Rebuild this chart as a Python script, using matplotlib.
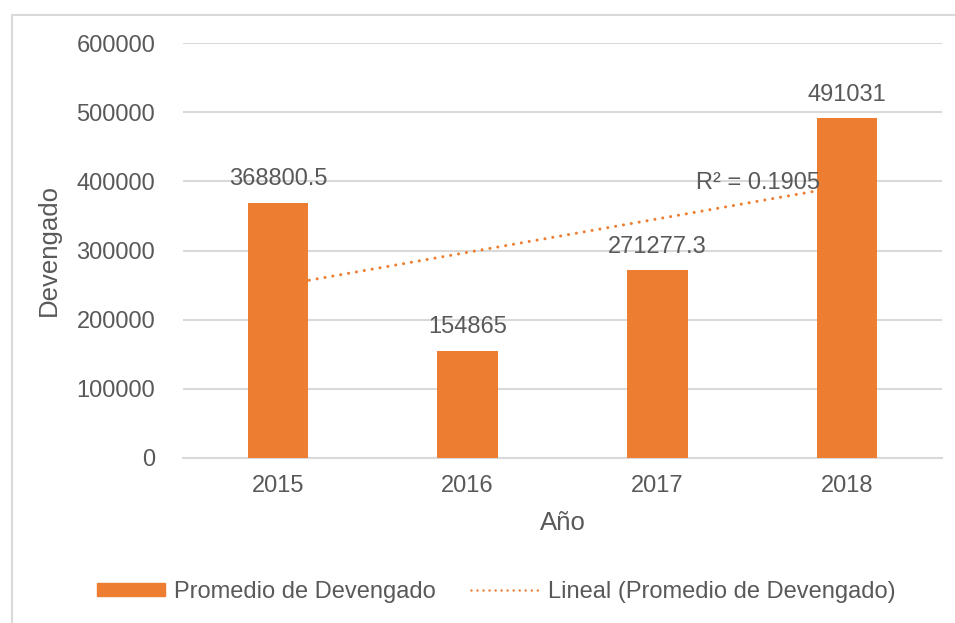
import matplotlib
matplotlib.use("Agg")
import matplotlib.pyplot as plt
import matplotlib.patches as mpatches
import numpy as np

plt.rcParams['font.family'] = ['Liberation Sans', 'DejaVu Sans']

years = ["2015", "2016", "2017", "2018"]
values = [368800.5, 154865, 271277.3, 491031]
labels = ["368800.5", "154865", "271277.3", "491031"]
yticks = [0, 100000, 200000, 300000, 400000, 500000, 600000]
r2_text = "R² = 0.1905"

orange = "#ED7D31"
txt = "#595959"
grid = "#D9D9D9"
dots = (0, (0.01, 2.6))

fig = plt.figure(figsize=(9.55, 6.23), dpi=100)
ax = fig.add_axes([183/955, 1-458/623, (942-183)/955, (458-43)/623])

x = np.arange(len(years))
bars = ax.bar(x, values, width=0.32, color=orange, zorder=3, label="Promedio de Devengado")

# linear trendline
coef = np.polyfit(x + 1, values, 1)
trend = np.polyval(coef, x + 1)
ax.plot(x, trend, color=orange, lw=2.2, linestyle=dots,
        dash_capstyle='round', zorder=4, label="Lineal (Promedio de Devengado)")

for xi, v, lab in zip(x, values, labels):
    ax.annotate(lab, (xi, v), xytext=(0, 9), textcoords="offset points",
                ha="center", va="bottom", fontsize=17, color=txt, zorder=5)

ax.text(2.53, 397000, r2_text, ha="center", va="center", fontsize=17, color=txt, zorder=5)

ax.set_xlim(-0.5, 3.5)
ax.set_ylim(0, 600000)
ax.set_yticks(yticks)
ax.set_yticklabels([str(t) for t in yticks])
ax.set_xticks(x)
ax.set_xticklabels(years)
ax.tick_params(axis='both', length=0, labelsize=17, labelcolor=txt)
ax.tick_params(axis='y', pad=20)
ax.tick_params(axis='x', pad=12)
ax.yaxis.grid(True, color=grid, lw=1.5, zorder=0)
ax.set_axisbelow(True)
for s in ["top", "right", "left"]:
    ax.spines[s].set_visible(False)
ax.spines["bottom"].set_color(grid)
ax.spines["bottom"].set_linewidth(1.5)

ax.set_xlabel("Año", fontsize=18.5, color=txt, labelpad=10)
ax.set_ylabel("Devengado", fontsize=18.5, color=txt, labelpad=11)

handles = [mpatches.Patch(color=orange),
           plt.Line2D([], [], color=orange, lw=1.8, linestyle=(0, (0.01, 2.4)), dash_capstyle='round')]
leg = fig.legend(handles, ["Promedio de Devengado", "Lineal (Promedio de Devengado)"],
                 loc="center", bbox_to_anchor=(496/955, 1-592/623), ncol=2, frameon=False,
                 fontsize=17, handlelength=2.9, handleheight=0.5, handletextpad=0.35,
                 columnspacing=1.5, labelcolor=txt)

border = mpatches.Rectangle((11.5/955, -0.1), 1.2, 1.1 - 14.5/623, transform=fig.transFigure,
                            fill=False, edgecolor=grid, lw=1.5, clip_on=False)
fig.patches.append(border)

fig.savefig("out.png", dpi=100)
